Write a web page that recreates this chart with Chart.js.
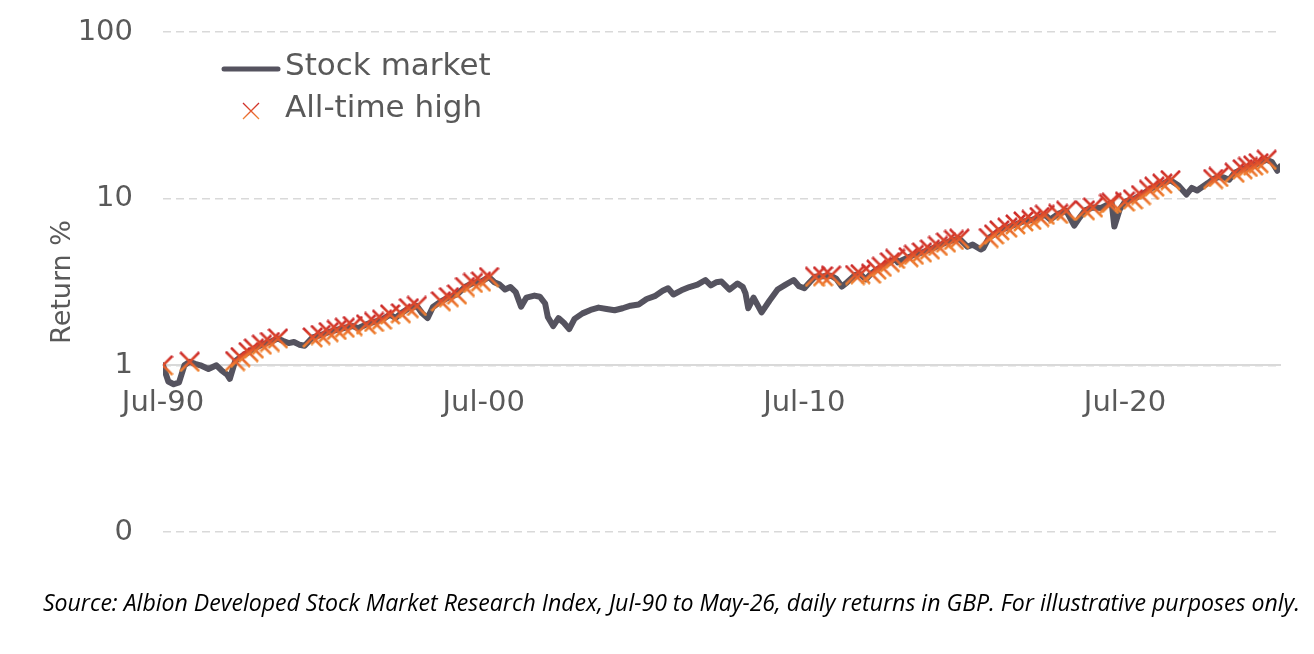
<!DOCTYPE html>
<html>
<head>
    <meta charset="utf-8" />
    <title>Stock market all-time highs</title>
    <script src="https://cdn.jsdelivr.net/npm/chart.js@4.4.1/dist/chart.umd.min.js"></script>
    <style>
        body { margin: 0; background: #fff; }
        #wrap { position: relative; width: 1314px; height: 654px; }
    </style>
</head>
<body>
    <div id="wrap"><canvas id="myChart"></canvas></div>

    <script>
        // month-end readings of the index (start = 1)
        const dates = [
            '1990-07','1990-09','1990-11',
            '1991-01','1991-03','1991-05','1991-07','1991-09','1991-12',
            '1992-03','1992-05','1992-07','1992-08','1992-10','1992-12',
            '1993-03','1993-05','1993-08','1993-11',
            '1994-02','1994-04','1994-06','1994-08','1994-10','1994-12',
            '1995-03','1995-06','1995-09','1995-12',
            '1996-03','1996-06','1996-08','1996-11',
            '1997-02','1997-05','1997-08','1997-10','1997-12',
            '1998-03','1998-06','1998-08','1998-10','1998-12',
            '1999-03','1999-06','1999-09','1999-12',
            '2000-03','2000-06','2000-09','2000-11',
            '2001-01','2001-03','2001-05','2001-07','2001-09','2001-11',
            '2002-02','2002-04','2002-06','2002-07','2002-09','2002-11',
            '2003-01','2003-03','2003-05','2003-08','2003-11',
            '2004-02','2004-05','2004-08','2004-11',
            '2005-02','2005-05','2005-08','2005-11',
            '2006-02','2006-04','2006-06','2006-09','2006-12',
            '2007-03','2007-06','2007-08','2007-10','2007-12',
            '2008-03','2008-06','2008-08','2008-09','2008-10','2008-12',
            '2009-03','2009-06','2009-09','2009-12',
            '2010-03','2010-05','2010-07','2010-09','2010-11',
            '2011-02','2011-05','2011-07','2011-09','2011-11',
            '2012-02','2012-04','2012-06','2012-08','2012-10','2012-12',
            '2013-03','2013-05','2013-06','2013-08','2013-10','2013-12',
            '2014-03','2014-06','2014-09','2014-12',
            '2015-03','2015-05','2015-08','2015-10',
            '2016-01','2016-02','2016-04','2016-06','2016-08','2016-11',
            '2017-02','2017-05','2017-08','2017-11',
            '2018-01','2018-03','2018-06','2018-09','2018-12',
            '2019-02','2019-04','2019-07','2019-10',
            '2020-01','2020-02','2020-03','2020-05','2020-07','2020-10',
            '2021-01','2021-04','2021-06','2021-09','2021-12',
            '2022-03','2022-06','2022-08','2022-10','2022-12',
            '2023-02','2023-04','2023-06','2023-08','2023-10','2023-12',
            '2024-03','2024-05','2024-07','2024-09','2024-12',
            '2025-02','2025-04','2025-05'
        ];
        const stockMarket = [
            1.00, 0.80, 0.77,
            0.79, 1.00, 1.05, 1.02, 1.00, 0.95,
            1.00, 0.93, 0.88, 0.83, 1.06, 1.12,
            1.20, 1.26, 1.33, 1.38,
            1.45, 1.40, 1.36, 1.38, 1.33, 1.31,
            1.47, 1.52, 1.58, 1.63,
            1.68, 1.72, 1.67, 1.76,
            1.82, 1.88, 2.02, 1.92, 2.05,
            2.20, 2.27, 2.05, 1.92, 2.24,
            2.42, 2.56, 2.66, 2.95,
            3.12, 3.18, 3.38, 3.15,
            3.05, 2.85, 2.95, 2.75, 2.25, 2.55,
            2.62, 2.58, 2.35, 1.95, 1.72, 1.92,
            1.80, 1.65, 1.90, 2.05, 2.15,
            2.22, 2.18, 2.14, 2.20,
            2.28, 2.32, 2.50, 2.60,
            2.80, 2.90, 2.66, 2.82, 2.95,
            3.05, 3.25, 3.02, 3.15, 3.18,
            2.85, 3.10, 2.95, 2.70, 2.20, 2.55,
            2.08, 2.45, 2.85, 3.05,
            3.25, 2.98, 2.90, 3.15, 3.40,
            3.42, 3.45, 3.30, 2.97, 3.15,
            3.48, 3.52, 3.28, 3.55, 3.75, 3.90,
            4.15, 4.35, 4.15, 4.30, 4.45, 4.60,
            4.75, 4.95, 5.20, 5.45,
            5.65, 5.75, 5.15, 5.30,
            4.95, 5.05, 5.80, 6.10, 6.45, 6.70,
            7.00, 7.30, 7.45, 7.75,
            8.00, 7.50, 8.10, 8.45, 6.90,
            7.70, 8.50, 8.85, 8.80,
            9.30, 9.45, 6.80, 8.60, 9.60, 9.90,
            10.5, 11.3, 11.8, 12.3, 12.9,
            12.0, 10.6, 11.6, 11.2, 11.8,
            12.4, 13.1, 13.5, 13.4, 13.0, 14.3,
            15.0, 15.5, 15.8, 16.3, 17.1,
            16.6, 14.7, 15.6
        ];
        const seriesNames = ['Stock market', 'All-time high'];
        const yTicks = [0.1, 1, 10, 100];
        const xTickLabels = ['Jul-90', 'Jul-00', 'Jul-10', 'Jul-20'];
        const xTickDates = ['1990-07', '2000-07', '2010-07', '2020-07'];
        const sourceText = 'Source: Albion Developed Stock Market Research Index, Jul-90 to May-26, daily returns in GBP. For illustrative purposes only.';

        const lineColor = '#55535f';
        const textColor = '#595959';
        const gridColor = '#d9d9d9';

        function toYear(d) {
            const p = d.split('-');
            return parseInt(p[0]) + (parseInt(p[1]) - 1) / 12;
        }

        const linePts = dates.map((d, i) => ({x: toYear(d), y: stockMarket[i]}));
        // an all-time high is any point above every earlier point
        const athPts = [];
        let best = 0;
        linePts.forEach(p => {
            if (p.y > best) { best = p.y; athPts.push(p); }
        });

        function makeCross(size, lw) {
            const c = document.createElement('canvas');
            c.width = size; c.height = size;
            const g = c.getContext('2d');
            const grad = g.createLinearGradient(0, 0, 0, size);
            grad.addColorStop(0, '#c8222a');
            grad.addColorStop(0.5, '#e2532b');
            grad.addColorStop(1, '#f28c34');
            g.strokeStyle = grad;
            g.lineWidth = lw;
            g.beginPath();
            g.moveTo(1, 1); g.lineTo(size - 1, size - 1);
            g.moveTo(size - 1, 1); g.lineTo(1, size - 1);
            g.stroke();
            return c;
        }
        const crossImg = makeCross(21, 2.5);
        const legendCross = makeCross(18, 1.3);

        // legend inside the plot + source line under it
        const overlay = {
            id: 'overlay',
            afterDraw(chart) {
                const ctx = chart.ctx;
                ctx.save();
                ctx.strokeStyle = lineColor;
                ctx.lineWidth = 5;
                ctx.lineCap = 'round';
                ctx.beginPath();
                ctx.moveTo(224, 69);
                ctx.lineTo(278, 69);
                ctx.stroke();
                ctx.drawImage(legendCross, 251 - legendCross.width / 2, 111 - legendCross.height / 2);

                ctx.fillStyle = textColor;
                ctx.font = '31px "DejaVu Sans"';
                ctx.textBaseline = 'middle';
                ctx.textAlign = 'left';
                ctx.fillText(chart.data.datasets[0].label, 285, 67);
                ctx.fillText(chart.data.datasets[1].label, 285, 109);

                ctx.fillStyle = '#000';
                ctx.font = 'italic 20px "Open Sans"';
                let w = ctx.measureText(sourceText).width;
                let size = 20 * 1258 / w;
                ctx.font = 'italic ' + size.toFixed(2) + 'px "Open Sans"';
                ctx.textAlign = 'right';
                ctx.textBaseline = 'alphabetic';
                ctx.fillText(sourceText, 1300, 611);
                ctx.restore();
            }
        };

        Chart.defaults.font.family = '"DejaVu Sans", sans-serif';

        let popChart = new Chart(document.getElementById('myChart'), {
            type: 'line',
            data: {
                datasets: [{
                    label: seriesNames[0],
                    data: linePts,
                    borderColor: lineColor,
                    backgroundColor: lineColor,
                    borderWidth: 6,
                    borderJoinStyle: 'round',
                    borderCapStyle: 'round',
                    pointRadius: 0,
                    tension: 0,
                    order: 1
                }, {
                    label: seriesNames[1],
                    data: athPts,
                    showLine: false,
                    pointStyle: crossImg,
                    pointRadius: 10,
                    order: 0
                }]
            },
            options: {
                responsive: true,
                maintainAspectRatio: false,
                animation: false,
                events: [],
                layout: { padding: { top: 32, right: 34, bottom: 122, left: 0 } },
                plugins: {
                    legend: { display: false },
                    tooltip: { enabled: false }
                },
                scales: {
                    x: {
                        type: 'linear',
                        position: { y: 1 },
                        min: toYear(dates[0]),
                        max: toYear(dates[dates.length - 1]),
                        afterBuildTicks: s => { s.ticks = xTickDates.map(d => ({value: toYear(d)})); },
                        ticks: {
                            color: textColor,
                            font: { size: 29 },
                            padding: 21,
                            maxRotation: 0,
                            autoSkip: false,
                            callback: (v) => {
                                const i = xTickDates.findIndex(d => Math.abs(toYear(d) - v) < 0.01);
                                return i >= 0 ? xTickLabels[i] : '';
                            }
                        },
                        grid: { display: false, drawTicks: false },
                        border: { display: true, color: gridColor, width: 2 }
                    },
                    y: {
                        type: 'logarithmic',
                        min: yTicks[0],
                        max: yTicks[yTicks.length - 1],
                        afterBuildTicks: s => { s.ticks = yTicks.map(v => ({value: v})); },
                        afterFit: s => { s.width = 163; s.paddingTop = 0; s.paddingBottom = 0; },
                        ticks: {
                            color: textColor,
                            font: { size: 29 },
                            padding: 30,
                            callback: v => (v < 1 ? '0' : String(v))
                        },
                        grid: {
                            color: gridColor,
                            lineWidth: 1.5,
                            drawTicks: false
                        },
                        border: { display: false, dash: [8, 5] },
                        title: {
                            display: true,
                            text: 'Return %',
                            color: textColor,
                            font: { size: 27 },
                            padding: { top: 47, bottom: 0 }
                        }
                    }
                }
            },
            plugins: [overlay]
        });
    </script>
</body>
</html>
